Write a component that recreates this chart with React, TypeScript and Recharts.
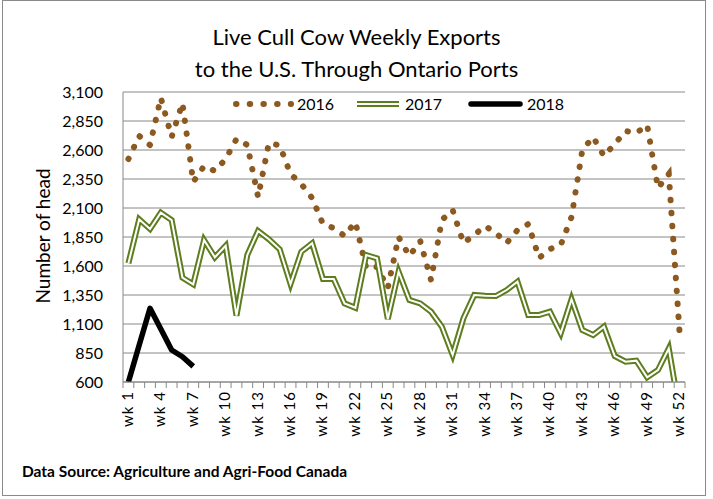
import React from 'react';
import { LineChart, Line, XAxis, YAxis, CartesianGrid, Legend, ReferenceLine } from 'recharts';

const weekLabels: string[] = [
  'wk 1','wk 2','wk 3','wk 4','wk 5','wk 6','wk 7','wk 8','wk 9','wk 10',
  'wk 11','wk 12','wk 13','wk 14','wk 15','wk 16','wk 17','wk 18','wk 19','wk 20',
  'wk 21','wk 22','wk 23','wk 24','wk 25','wk 26','wk 27','wk 28','wk 29','wk 30',
  'wk 31','wk 32','wk 33','wk 34','wk 35','wk 36','wk 37','wk 38','wk 39','wk 40',
  'wk 41','wk 42','wk 43','wk 44','wk 45','wk 46','wk 47','wk 48','wk 49','wk 50',
  'wk 51','wk 52',
];

const exports2016: number[] = [
  2522, 2721, 2643, 3050, 2712, 3005, 2324, 2462, 2419, 2522,
  2695, 2643, 2195, 2660, 2640, 2393, 2307, 2186, 1962, 1927,
  1859, 1979, 1583, 1591, 1410, 1850, 1686, 1815, 1479, 1996,
  2083, 1798, 1867, 1945, 1884, 1798, 1910, 1962, 1669, 1746,
  1781, 2022, 2600, 2712, 2548, 2652, 2764, 2746, 2815, 2272,
  2393, 1022,
];

const exports2017: number[] = [
  1623, 2002, 1919, 2059, 1996, 1499, 1442, 1824, 1675, 1775,
  1172, 1695, 1902, 1830, 1744, 1445, 1723, 1796, 1488, 1488,
  1278, 1240, 1695, 1666, 1143, 1551, 1307, 1278, 1206, 1077,
  833, 1149, 1350, 1344, 1341, 1393, 1465, 1178, 1178, 1206,
  1020, 1313, 1048, 1005, 1077, 824, 775, 784, 640, 703,
  890, 340,
];

const exports2018: number[] = [600, 919, 1235, 1057, 876, 818, 735];

const yTicks: number[] = [600, 850, 1100, 1350, 1600, 1850, 2100, 2350, 2600, 2850, 3100];
const labelWeeks: number[] = [1, 4, 7, 10, 13, 16, 19, 22, 25, 28, 31, 34, 37, 40, 43, 46, 49, 52];

// x positions in half-week units: week n sits at 2n-1, category boundaries at even values
const boundaryTicks: number[] = weekLabels.map((_, i) => i * 2).concat([104]);
const labelTicks: number[] = labelWeeks.map((w) => w * 2 - 1);

const data = weekLabels.map((label, i) => ({
  pos: i * 2 + 1,
  label,
  y2016: exports2016[i],
  y2017: exports2017[i],
  y2018: i < exports2018.length ? exports2018[i] : null,
}));

const FONT = 'Lato, "Open Sans", sans-serif';
const C2016 = '#8C5A20';
const C2017 = '#5E7D1E';
const GRID = '#888888';

const XTick = (props: any) => {
  const { x, y, payload } = props;
  const v: number = payload.value;
  return (
    <text
      x={0}
      y={0}
      transform={`translate(${x + 4.5},${y + 9}) rotate(-90)`}
      textAnchor="end"
      fontSize={15}
      letterSpacing={1}
      fontFamily={FONT}
      fill="#000"
    >
      {weekLabels[(v - 1) / 2]}
    </text>
  );
};

const LegendContent = () => (
  <svg width={345} height={24} style={{ display: 'block', overflow: 'visible' }}>
    <line x1={7} y1={12} x2={62} y2={12} stroke={C2016} strokeWidth={6} strokeDasharray="0.5 13.2" strokeLinecap="round" />
    <text x={68} y={18} fontSize={16} fontFamily={FONT} fill="#000">2016</text>
    <line x1={128} y1={12} x2={170} y2={12} stroke={C2017} strokeWidth={6} />
    <line x1={128} y1={12} x2={170} y2={12} stroke="#fff" strokeWidth={2} />
    <text x={176} y={18} fontSize={16} fontFamily={FONT} fill="#000">2017</text>
    <line x1={242} y1={12} x2={291} y2={12} stroke="#000" strokeWidth={5.5} strokeLinecap="round" />
    <text x={298} y={18} fontSize={16} fontFamily={FONT} fill="#000">2018</text>
  </svg>
);

export default function App() {
  return (
    <div style={{ position: 'absolute', left: 0, top: 0, width: 713, height: 499, background: '#fff' }}>
      <div
        style={{
          position: 'absolute', left: 2, top: 0, width: 704, height: 496,
          border: '1px solid #8a8a8a', boxSizing: 'border-box',
        }}
      />
      <div
        style={{
          position: 'absolute', left: 0, top: 21, width: 713, textAlign: 'center',
          fontFamily: FONT, fontSize: 22, lineHeight: '32px', color: '#000',
        }}
      >
        Live Cull Cow Weekly Exports
        <br />
        to the U.S. Through Ontario Ports
      </div>
      <div
        style={{
          position: 'absolute', left: 42, top: 236, transform: 'translate(-50%, -50%) rotate(-90deg)',
          fontFamily: FONT, fontSize: 19, whiteSpace: 'nowrap', color: '#000',
        }}
      >
        Number of head
      </div>
      <div
        style={{
          position: 'absolute', left: 22, top: 462, fontFamily: FONT, fontSize: 15.5,
          fontWeight: 'bold', whiteSpace: 'nowrap', color: '#000',
        }}
      >
        Data Source: Agriculture and Agri-Food Canada
      </div>
      <div style={{ position: 'absolute', left: 0, top: 0 }}>
        <LineChart
          width={713}
          height={499}
          data={data}
          margin={{ top: 92, right: 28, bottom: 115, left: 63 }}
        >
          <CartesianGrid vertical={false} stroke={GRID} strokeWidth={1} />
          <XAxis
            dataKey="pos"
            type="number"
            domain={[0, 104]}
            ticks={labelTicks}
            interval={0}
            height={2}
            tickSize={0}
            tickMargin={0}
            tickLine={false}
            axisLine={{ stroke: GRID }}
            tick={<XTick />}
          />
          <YAxis
            type="number"
            domain={[600, 3100]}
            allowDataOverflow
            ticks={yTicks}
            interval={0}
            width={60}
            tickLine={false}
            tickSize={0}
            tickMargin={20}
            axisLine={{ stroke: GRID }}
            tickFormatter={(v: number) => v.toLocaleString('en-US')}
            tick={{ fill: '#000', fontSize: 16, fontFamily: FONT }}
          />
          {boundaryTicks.map((b) => (
            <ReferenceLine
              key={`b${b}`}
              segment={[{ x: b, y: 600 }, { x: b, y: 548 }]}
              ifOverflow="visible"
              stroke={GRID}
              strokeWidth={1}
            />
          ))}
          <Legend
            layout="horizontal"
            verticalAlign="middle"
            align="center"
            wrapperStyle={{ position: 'absolute', left: 229, top: 92, width: 345, height: 24 }}
            content={<LegendContent />}
          />
          <Line
            dataKey="y2016"
            stroke={C2016}
            strokeWidth={6}
            strokeDasharray="0.5 12.5"
            strokeLinecap="round"
            dot={false}
            activeDot={false}
            isAnimationActive={false}
          />
          <Line
            dataKey="y2017"
            stroke={C2017}
            strokeWidth={6}
            dot={false}
            activeDot={false}
            isAnimationActive={false}
          />
          <Line
            dataKey="y2017"
            stroke="#ffffff"
            strokeWidth={2}
            dot={false}
            activeDot={false}
            isAnimationActive={false}
            legendType="none"
          />
          <Line
            dataKey="y2018"
            stroke="#000000"
            strokeWidth={5.5}
            strokeLinejoin="round"
            dot={false}
            activeDot={false}
            isAnimationActive={false}
          />
        </LineChart>
      </div>
    </div>
  );
}
